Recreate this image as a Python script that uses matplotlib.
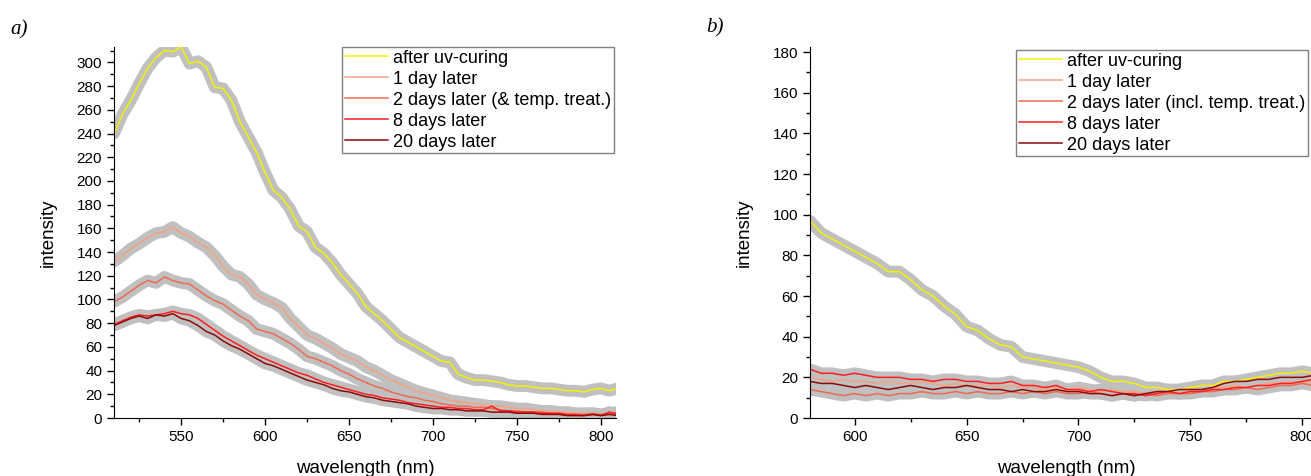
import matplotlib.pyplot as plt
import numpy as np
from matplotlib.ticker import MultipleLocator

plt.rcParams['font.family'] = ['Liberation Sans', 'DejaVu Sans']

# panel a) data, 510..810 nm every 5 nm
wl_a = np.arange(510, 811, 5)
a_uv = [240, 256, 268, 282, 295, 304, 310, 309, 313, 299, 301, 296, 279, 278, 268,
        250, 237, 224, 207, 192, 186, 176, 162, 157, 144, 139, 131, 121, 113, 105,
        94, 88, 82, 75, 68, 64, 60, 56, 52, 48, 47, 37, 34, 32, 32, 31, 30, 28, 27, 27,
        26, 25, 25, 24, 23, 23, 22, 24, 25, 23, 25]
a_1d = [132, 137, 143, 147, 152, 156, 157, 161, 156, 153, 148, 144, 137, 128, 121,
        119, 113, 104, 100, 97, 93, 84, 77, 70, 67, 63, 59, 54, 51, 48,
        43, 40, 36, 32, 29, 26, 23, 21, 19, 17, 15, 14, 13, 12, 11, 10, 10, 9, 8, 8,
        7, 6, 6, 5, 5, 4, 4, 4, 3, 4, 4]
a_2d = [98, 102, 107, 112, 116, 114, 119, 116, 114, 113, 108, 103, 99, 96, 91,
        86, 82, 75, 73, 71, 67, 63, 58, 52, 50, 47, 44, 40, 37, 33,
        30, 27, 25, 22, 20, 18, 17, 15, 14, 12, 11, 10, 10, 9, 9, 8, 7, 6, 6, 5,
        5, 5, 4, 4, 3, 3, 3, 4, 3, 4, 5]
a_8d = [79, 82, 85, 87, 86, 87, 88, 90, 88, 87, 84, 79, 74, 69, 65,
        61, 57, 53, 50, 47, 44, 41, 38, 36, 33, 30, 28, 26, 24, 22,
        20, 19, 17, 16, 15, 13, 12, 11, 10, 9, 9, 8, 8, 7, 7, 10, 6, 6, 5, 5,
        5, 4, 4, 4, 3, 3, 2, 3, 2, 5, 3]
a_20d = [78, 81, 84, 86, 84, 87, 86, 88, 84, 82, 78, 73, 70, 65, 61,
         58, 54, 50, 46, 44, 41, 38, 35, 32, 30, 28, 25, 23, 22, 20,
         18, 17, 15, 14, 13, 12, 10, 9, 8, 8, 7, 7, 6, 6, 6, 5, 5, 5, 4, 4,
         4, 3, 3, 3, 2, 2, 2, 3, 2, 3, 2]

# panel b) data, 580..810 nm every 5 nm
wl_b = np.arange(580, 811, 5)
b_uv = [97, 91, 88, 85, 82, 79, 76, 72, 72, 68, 63, 60, 55, 51, 45, 43, 39, 36, 35, 30,
        29, 28, 27, 26, 25, 23, 20, 18, 18, 17, 15, 15, 14, 14, 15, 16, 16, 18, 18, 19,
        20, 21, 22, 22, 23, 22, 21]
b_1d = [20, 19, 18, 19, 18, 18, 17, 18, 17, 17, 18, 17, 16, 17, 16, 16, 16, 15, 16, 15,
        15, 14, 15, 14, 15, 14, 13, 14, 13, 13, 12, 13, 13, 12, 13, 14, 15, 15, 16, 15,
        16, 17, 17, 18, 17, 18, 19]
b_2d = [14, 13, 12, 11, 12, 11, 12, 11, 12, 12, 13, 12, 12, 13, 12, 13, 12, 12, 13, 12,
        13, 12, 13, 12, 12, 13, 12, 11, 12, 11, 12, 11, 12, 12, 12, 13, 13, 14, 14, 15,
        14, 15, 16, 16, 17, 16, 18]
b_8d = [24, 22, 22, 21, 22, 21, 20, 20, 20, 19, 19, 18, 19, 19, 18, 18, 17, 17, 18, 16,
        16, 15, 16, 14, 14, 13, 14, 13, 12, 12, 11, 12, 13, 12, 13, 13, 14, 14, 15, 15,
        16, 16, 17, 17, 18, 19, 20]
b_20d = [18, 17, 17, 16, 15, 16, 15, 14, 15, 16, 15, 14, 15, 15, 16, 15, 14, 14, 13, 14,
         13, 13, 14, 13, 13, 12, 12, 11, 12, 11, 12, 13, 13, 14, 14, 14, 15, 17, 18, 18,
         19, 19, 20, 20, 20, 21, 21]

colors = ['#f2f200', '#f5a37f', '#ee6a50', '#ff1e1e', '#8b0a0a']
labels_a = ['after uv-curing', '1 day later', '2 days later (& temp. treat.)',
            '8 days later', '20 days later']
labels_b = ['after uv-curing', '1 day later', '2 days later (incl. temp. treat.)',
            '8 days later', '20 days later']

fig = plt.figure(figsize=(13.11, 4.76), dpi=100)
ax_a = fig.add_axes([114 / 1311, 1 - 418 / 476, 502 / 1311, 371 / 476])
ax_b = fig.add_axes([810 / 1311, 1 - 418 / 476, 513.5 / 1311, 371 / 476])


def draw_panel(ax, wl, series, labels, ylim, xlim, leg_x, leg_y):
    for s in series:
        ax.plot(wl, s, color='#c0c0c0', lw=8.5, solid_capstyle='round',
                solid_joinstyle='round', zorder=1)
    for s, c, lab in zip(series, colors, labels):
        ax.plot(wl, s, color=c, lw=1.1, label=lab, zorder=2)
    ax.set_xlim(*xlim)
    ax.set_ylim(*ylim)
    ax.spines['top'].set_visible(False)
    ax.spines['right'].set_visible(False)
    ax.xaxis.set_major_locator(MultipleLocator(50))
    ax.xaxis.set_minor_locator(MultipleLocator(25))
    ax.yaxis.set_major_locator(MultipleLocator(20))
    ax.yaxis.set_minor_locator(MultipleLocator(10))
    ax.tick_params(which='major', length=5, width=1, labelsize=11, direction='out')
    ax.tick_params(which='minor', length=3, width=1, direction='out')
    ax.set_xlabel('wavelength (nm)', fontsize=13.5, labelpad=12)
    ax.set_ylabel('intensity', fontsize=13.5, labelpad=14)
    leg = ax.legend(loc='upper left', bbox_to_anchor=(leg_x, leg_y), fontsize=13,
                    fancybox=False, framealpha=1, edgecolor='#808080',
                    borderpad=0.15, labelspacing=0.22, handlelength=2.4,
                    handletextpad=0.3, borderaxespad=0)
    leg.get_frame().set_linewidth(1.0)


draw_panel(ax_a, wl_a, [a_uv, a_1d, a_2d, a_8d, a_20d], labels_a,
           (0, 313), (510, 809), 0.454, 1.0)
draw_panel(ax_b, wl_b, [b_uv, b_1d, b_2d, b_8d, b_20d], labels_b,
           (0, 182.5), (580, 809.5), 0.401, 0.992)

fig.text(10 / 1311, 1 - 30 / 476, 'a)', family='Liberation Serif', style='italic',
         fontsize=15, va='center')
fig.text(706 / 1311, 1 - 28 / 476, 'b)', family='Liberation Serif', style='italic',
         fontsize=15, va='center')

fig.savefig('out.png', dpi=100)
